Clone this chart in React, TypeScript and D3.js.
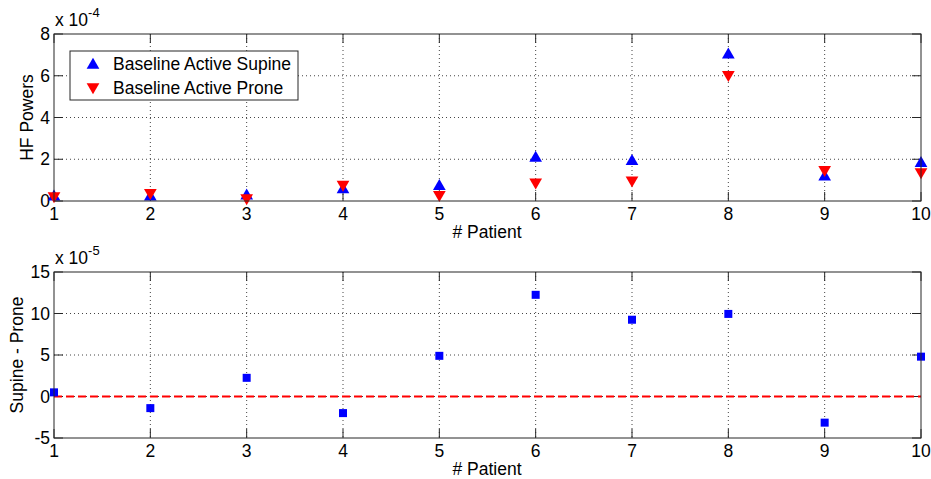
// Two stacked MATLAB-style panels: HF powers per patient, and their difference
import React, { useEffect, useRef } from 'react';
import * as d3 from 'd3';

const patients = [1, 2, 3, 4, 5, 6, 7, 8, 9, 10];
// values in units of 1e-4
const supine = [0.25, 0.25, 0.3, 0.6, 0.75, 2.1, 1.95, 7.05, 1.2, 1.85];
const prone = [0.2, 0.35, 0.1, 0.75, 0.25, 0.85, 0.95, 6.0, 1.45, 1.35];
// values in units of 1e-5
const diff = [0.5, -1.4, 2.25, -2.0, 4.9, 12.25, 9.25, 9.95, -3.15, 4.8];

const topTicks = [0, 2, 4, 6, 8];
const bottomTicks = [-5, 0, 5, 10, 15];
const legendLabels = ['Baseline Active Supine', 'Baseline Active Prone'];

const W = 931, H = 479;
const FONT = 'Liberation Sans, Arial, sans-serif';
const FS = 17.5;

export default function App() {
  const ref = useRef<SVGSVGElement>(null);

  useEffect(() => {
    const svg = d3.select(ref.current);
    svg.selectAll('*').remove();

    const x = d3.scaleLinear().domain([1, 10]).range([54, 921]);

    function panel(top: number, bottom: number, domain: [number, number], ticks: number[], exp: string, ylabel: string, labelX: number) {
      const y = d3.scaleLinear().domain(domain).range([bottom, top]);
      const g = svg.append('g');
      g.append('rect').attr('x', 54).attr('y', top).attr('width', 867).attr('height', bottom - top).attr('fill', '#fff');

      // grid
      g.selectAll('.gx').data(patients.slice(1, -1)).enter().append('line')
        .attr('x1', d => x(d)).attr('x2', d => x(d)).attr('y1', top).attr('y2', bottom)
        .attr('stroke', '#444').attr('stroke-width', 1).attr('stroke-dasharray', '1,3');
      g.selectAll('.gy').data(ticks.slice(1, -1)).enter().append('line')
        .attr('x1', 54).attr('x2', 921).attr('y1', d => y(d)).attr('y2', d => y(d))
        .attr('stroke', '#444').attr('stroke-width', 1).attr('stroke-dasharray', '1,3');

      // ticks (inward, both sides)
      const tl = 9;
      patients.forEach(p => {
        g.append('line').attr('x1', x(p)).attr('x2', x(p)).attr('y1', bottom).attr('y2', bottom - tl).attr('stroke', '#262626');
        g.append('line').attr('x1', x(p)).attr('x2', x(p)).attr('y1', top).attr('y2', top + tl).attr('stroke', '#262626');
        g.append('text').attr('x', x(p)).attr('y', bottom + 19).attr('text-anchor', 'middle')
          .attr('font-family', FONT).attr('font-size', FS).text(p);
      });
      ticks.forEach(t => {
        g.append('line').attr('x1', 54).attr('x2', 54 + tl).attr('y1', y(t)).attr('y2', y(t)).attr('stroke', '#262626');
        g.append('line').attr('x1', 921).attr('x2', 921 - tl).attr('y1', y(t)).attr('y2', y(t)).attr('stroke', '#262626');
        g.append('text').attr('x', 50).attr('y', y(t) + 6).attr('text-anchor', 'end')
          .attr('font-family', FONT).attr('font-size', FS).text(t);
      });

      const ex = g.append('text').attr('x', 55).attr('y', top - 8).attr('font-family', FONT).attr('font-size', FS);
      ex.append('tspan').text('x 10');
      ex.append('tspan').attr('dy', -9).attr('font-size', 13).text(exp);

      g.append('text').attr('x', 487).attr('y', bottom + 37).attr('text-anchor', 'middle')
        .attr('font-family', FONT).attr('font-size', FS).text('# Patient');
      g.append('text').attr('transform', `translate(${labelX},${(top + bottom) / 2}) rotate(-90)`).attr('text-anchor', 'middle')
        .attr('font-family', FONT).attr('font-size', FS).text(ylabel);
      return { g, y };
    }

    const tri = d3.symbol().type(d3.symbolTriangle).size(70);

    // top panel
    const p1 = panel(34, 201, [0, 8], topTicks, '-4', 'HF Powers', 33);
    p1.g.selectAll('.sup').data(supine).enter().append('path')
      .attr('d', tri).attr('fill', '#0000ff')
      .attr('transform', (d, i) => `translate(${x(patients[i])},${p1.y(d) + 1})`);
    p1.g.selectAll('.pro').data(prone).enter().append('path')
      .attr('d', tri).attr('fill', '#ff0000')
      .attr('transform', (d, i) => `translate(${x(patients[i])},${p1.y(d) - 1}) rotate(180)`);
    p1.g.append('rect').attr('x', 54).attr('y', 34).attr('width', 867).attr('height', 167)
      .attr('fill', 'none').attr('stroke', '#262626');

    // legend
    const lg = p1.g.append('g');
    lg.append('rect').attr('x', 70).attr('y', 51).attr('width', 228).attr('height', 49)
      .attr('fill', '#fff').attr('stroke', '#262626');
    legendLabels.forEach((l, i) => {
      const cy = 64 + i * 24;
      lg.append('path').attr('d', tri).attr('fill', i === 0 ? '#0000ff' : '#ff0000')
        .attr('transform', `translate(93,${cy + (i === 0 ? 1 : -1)}) rotate(${i === 0 ? 0 : 180})`);
      lg.append('text').attr('x', 113).attr('y', cy + 6).attr('font-family', FONT).attr('font-size', FS).text(l);
    });

    // bottom panel
    const p2 = panel(272, 438, [-5, 15], bottomTicks, '-5', 'Supine - Prone', 23);
    p2.g.append('line').attr('x1', 54).attr('x2', 921).attr('y1', p2.y(0)).attr('y2', p2.y(0))
      .attr('stroke', '#ff0000').attr('stroke-width', 2).attr('stroke-dasharray', '8,4');
    p2.g.selectAll('.dif').data(diff).enter().append('rect')
      .attr('x', (d, i) => x(patients[i]) - 4).attr('y', d => p2.y(d) - 4)
      .attr('width', 8).attr('height', 8).attr('fill', '#0000ff');
    p2.g.append('rect').attr('x', 54).attr('y', 272).attr('width', 867).attr('height', 166)
      .attr('fill', 'none').attr('stroke', '#262626');
  }, []);

  return (
    <svg ref={ref} width={W} height={H} style={{ position: 'absolute', left: 0, top: 0, background: '#fff' }} />
  );
}
